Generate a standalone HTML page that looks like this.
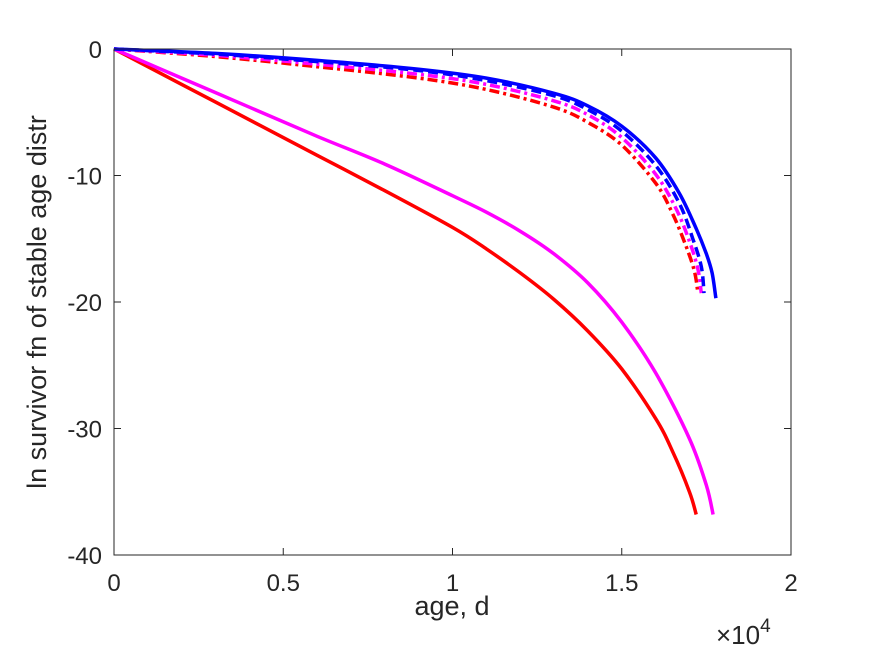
<!DOCTYPE html>
<html><head><meta charset="utf-8"><style>
body{margin:0;background:#fff;}
svg text{font-family:"Liberation Sans",sans-serif;fill:#262626;}
</style></head><body>
<svg id="chart" width="875" height="656" xmlns="http://www.w3.org/2000/svg">
<rect width="875" height="656" fill="#fff"/>
<g id="plot"></g>
<g id="axes"></g>
</svg>
<script>
const xTicks=[0,0.5,1,1.5,2];
const xTickLabels=["0","0.5","1","1.5","2"];
const yTicks=[0,-10,-20,-30,-40];
const yTickLabels=["0","-10","-20","-30","-40"];
const redSolidX=[0,0.2,0.4,0.6,0.8,1.0,1.1,1.2,1.3,1.4,1.5,1.6,1.65,1.7,1.72];
const redSolidY=[0,-2.8,-5.6,-8.4,-11.2,-14.1,-15.8,-17.7,-19.8,-22.3,-25.3,-29.2,-31.8,-35.0,-36.8];
const magSolidX=[0,0.2,0.4,0.6,0.8,1.0,1.1,1.2,1.3,1.4,1.5,1.6,1.7,1.75,1.77];
const magSolidY=[0,-2.3,-4.6,-6.9,-9.1,-11.6,-12.9,-14.4,-16.2,-18.5,-21.6,-25.6,-30.8,-34.5,-36.8];
const blueSolidX=[0,0.3,0.6,0.9,1.1,1.3,1.4,1.5,1.6,1.67,1.72,1.75,1.767,1.778];
const blueSolidY=[0,-0.35,-0.9,-1.6,-2.3,-3.5,-4.5,-6.1,-8.6,-11.4,-14.2,-16.2,-17.7,-19.7];
const blueDashX=[0,0.3,0.6,0.9,1.1,1.3,1.4,1.5,1.6,1.67,1.71,1.735,1.743];
const blueDashY=[0,-0.4,-1.0,-1.7,-2.5,-3.7,-4.8,-6.5,-9.2,-12.2,-15,-17.2,-19.3];
const magDDX=[0,0.3,0.6,0.9,1.1,1.3,1.4,1.5,1.6,1.66,1.70,1.725,1.735];
const magDDY=[0,-0.5,-1.2,-2.0,-2.8,-4.1,-5.2,-7.0,-9.9,-12.6,-15.2,-17.4,-19.3];
const redDDX=[0,0.3,0.6,0.9,1.1,1.3,1.4,1.5,1.6,1.65,1.69,1.715,1.725];
const redDDY=[0,-0.6,-1.4,-2.3,-3.2,-4.6,-5.8,-7.6,-10.6,-13,-15.6,-17.6,-19.3];

const L=114,R=791,T=49,B=555;
const xs=v=>L+(v-0)/(2-0)*(R-L);
const ys=v=>T+(0-v)/(40)*(B-T);
const NS="http://www.w3.org/2000/svg";
const plot=document.getElementById('plot'),axes=document.getElementById('axes');
function mk(tag,attrs,parent){const e=document.createElementNS(NS,tag);for(const k in attrs)e.setAttribute(k,attrs[k]);parent.appendChild(e);return e;}
function smooth(P){
  let d='M'+P[0][0].toFixed(1)+' '+P[0][1].toFixed(1);
  for(let i=0;i<P.length-1;i++){
    const p0=P[Math.max(i-1,0)],p1=P[i],p2=P[i+1],p3=P[Math.min(i+2,P.length-1)];
    const c1=[p1[0]+(p2[0]-p0[0])/6,p1[1]+(p2[1]-p0[1])/6];
    const c2=[p2[0]-(p3[0]-p1[0])/6,p2[1]-(p3[1]-p1[1])/6];
    d+=' C'+c1[0].toFixed(1)+' '+c1[1].toFixed(1)+' '+c2[0].toFixed(1)+' '+c2[1].toFixed(1)+' '+p2[0].toFixed(1)+' '+p2[1].toFixed(1);
  }
  return d;
}
function line(X,Y,color,dash,name){
  const P=X.map((x,i)=>[xs(x),ys(Y[i])]);
  const p=mk('path',{d:smooth(P),fill:'none',stroke:color,'stroke-width':3.5,'stroke-dasharray':dash,'stroke-linejoin':'round'},plot);
  
  
}
line(redDDX,redDDY,'#ff0000','10 4 3 4','red-dashdot-line');
line(magDDX,magDDY,'#ff00ff','10 4 3 4','magenta-dashdot-line');
line(blueDashX,blueDashY,'#0000ff','10 5','blue-dashed-line');
line(redSolidX,redSolidY,'#ff0000','none','red-solid-line');
line(magSolidX,magSolidY,'#ff00ff','none','magenta-solid-line');
line(blueSolidX,blueSolidY,'#0000ff','none','blue-solid-line');

const box=mk('rect',{x:L,y:T,width:R-L,height:B-T,fill:'none',stroke:'#262626','stroke-width':1},axes);


xTicks.forEach((v,i)=>{
  const x=xs(v);
  mk('line',{x1:x,x2:x,y1:B,y2:B-7,stroke:'#262626'},axes);
  mk('line',{x1:x,x2:x,y1:T,y2:T+7,stroke:'#262626'},axes);
  const t=mk('text',{x:x,y:B+36,'text-anchor':'middle','font-size':24},axes);
  t.textContent=xTickLabels[i];
  
  
});
yTicks.forEach((v,i)=>{
  const y=ys(v);
  mk('line',{x1:L,x2:L+7,y1:y,y2:y,stroke:'#262626'},axes);
  mk('line',{x1:R,x2:R-7,y1:y,y2:y,stroke:'#262626'},axes);
  const t=mk('text',{x:L-12,y:y+9,'text-anchor':'end','font-size':24},axes);
  t.textContent=yTickLabels[i];
  
  
});
</script>
<svg style="position:absolute;left:0;top:0" width="875" height="656" xmlns="http://www.w3.org/2000/svg">
<text x="452" y="615" text-anchor="middle" font-size="27" style="font-family:'Liberation Sans',sans-serif;fill:#262626">age, d</text>
<text x="716" y="644" font-size="26" style="font-family:'Liberation Sans',sans-serif;fill:#262626">×10<tspan dy="-12" font-size="19">4</tspan></text>
<text transform="translate(46,302) rotate(-90)" text-anchor="middle" font-size="27" style="font-family:'Liberation Sans',sans-serif;fill:#262626">ln survivor fn of stable age distr</text>
</svg>
</body></html>
